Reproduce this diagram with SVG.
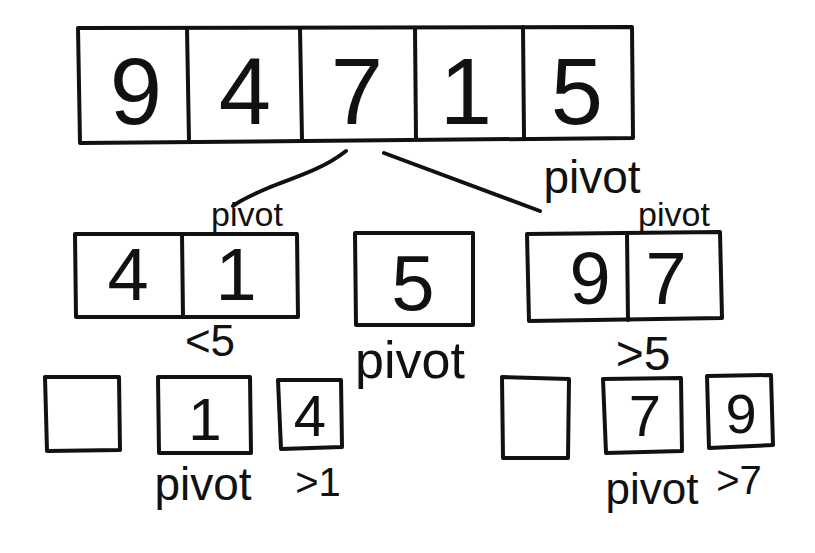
<svg xmlns="http://www.w3.org/2000/svg" width="815" height="553" viewBox="0 0 815 553">
<style>
.box{fill:none;stroke:#111;stroke-width:4;stroke-linejoin:round;stroke-linecap:round}
.ln{fill:none;stroke:#111;stroke-width:4;stroke-linecap:round}
.d{font-family:"Liberation Sans","DejaVu Sans",sans-serif;fill:#111;text-anchor:middle}
.lbl{font-family:"Liberation Sans","DejaVu Sans",sans-serif;fill:#111;text-anchor:middle}
</style>
<rect width="815" height="553" fill="#fff"/>
<g id="top-array">
  <path class="box" d="M78,28 L632,27 L633,138 L80,143 Z"/>
  <path class="ln" d="M187,28 L189,141 M300,28 L302,140 M415,28 L416,139 M523,27 L524,138"/>
  <text class="d" x="136" y="124" font-size="94">9</text>
  <text class="d" x="245" y="124" font-size="94">4</text>
  <text class="d" x="357" y="124" font-size="94">7</text>
  <text class="d" x="466" y="124" font-size="94">1</text>
  <text class="d" x="577" y="124" font-size="94">5</text>
  <text class="lbl" x="592" y="193" font-size="46">pivot</text>
</g>
<g id="connectors">
  <path class="ln" d="M346,151 C322,170 292,178 268,188 C252,195 240,200 233,206"/>
  <path class="ln" d="M384,153 L540,211"/>
</g>
<g id="left-partition">
  <path class="box" d="M75,234 L297,234 L298,317 L76,317 Z"/>
  <path class="ln" d="M182,234 L183,317"/>
  <text class="d" x="128" y="300" font-size="74">4</text>
  <text class="d" x="236" y="300" font-size="74">1</text>
  <text class="lbl" x="247" y="226" font-size="34">pivot</text>
  <text class="lbl" x="210" y="356" font-size="44">&lt;5</text>
</g>
<g id="middle-pivot">
  <path class="box" d="M355,233 L473,233 L473,325 L356,325 Z"/>
  <text class="d" x="413" y="310" font-size="78">5</text>
  <text class="lbl" x="410" y="378" font-size="52">pivot</text>
</g>
<g id="right-partition">
  <path class="box" d="M527,234 L720,232 L722,318 L529,321 Z"/>
  <path class="ln" d="M627,233 L628,320"/>
  <text class="d" x="590" y="304" font-size="74">9</text>
  <text class="d" x="666" y="304" font-size="74">7</text>
  <text class="lbl" x="674" y="226" font-size="34">pivot</text>
  <text class="lbl" x="643" y="370" font-size="48">&gt;5</text>
</g>
<g id="left-empty">
  <path class="box" d="M45,377 L119,377 L120,450 L47,451 Z"/>
</g>
<g id="left-one">
  <path class="box" d="M158,377 L250,377 L251,453 L159,453 Z"/>
  <text class="d" x="205" y="440" font-size="60">1</text>
  <text class="lbl" x="203" y="500" font-size="46">pivot</text>
</g>
<g id="left-four">
  <path class="box" d="M278,380 L341,380 L342,447 L281,449 Z"/>
  <text class="d" x="310" y="436" font-size="58">4</text>
  <text class="lbl" x="318" y="496" font-size="40">&gt;1</text>
</g>
<g id="right-empty">
  <path class="box" d="M502,377 L569,379 L568,458 L503,458 Z"/>
</g>
<g id="right-seven">
  <path class="box" d="M603,379 L681,378 L682,451 L606,453 Z"/>
  <text class="d" x="645" y="436" font-size="58">7</text>
  <text class="lbl" x="652" y="504" font-size="44">pivot</text>
</g>
<g id="right-nine">
  <path class="box" d="M707,376 L771,375 L773,445 L709,448 Z"/>
  <text class="d" x="741" y="433" font-size="56">9</text>
  <text class="lbl" x="739" y="494" font-size="40">&gt;7</text>
</g>
</svg>
